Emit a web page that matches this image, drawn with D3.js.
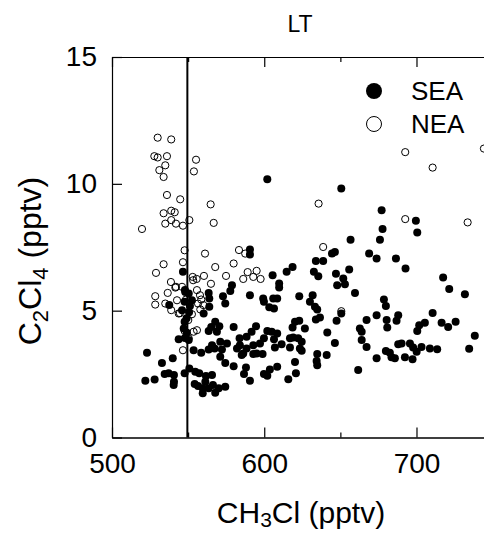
<!DOCTYPE html>
<html>
<head>
<meta charset="utf-8">
<script src="https://cdn.jsdelivr.net/npm/d3@7"></script>
<style>
  body { margin: 0; background: #fff; }
  text { font-family: "Liberation Sans", Arial, sans-serif; fill: #000; }
</style>
</head>
<body>
<div id="viz"></div>
<script>
const width = 484;
const height = 534;
const margin = {top: 57, right: -1, bottom: 97, left: 112};

// SEA (filled) points: CH3Cl, C2Cl4 (pptv)
const seaCH3Cl = [546.6,578.8,577.7,572.9,574.4,563.5,563.9,563.9,560.2,548.1,550.4,547.7,552.5,537.6,546.0,547.7,547.1,549.2,543.8,550.4,
  553.6,558.6,563.5,565.7,565.2,563.5,567.8,570.5,568.9,571.1,567.4,572.2,571.1,575.5,579.9,583.8,582.1,574.4,579.9,523.0,
  532.8,539.9,534.6,537.2,540.7,540.5,521.9,528.0,547.7,550.8,554.7,557.3,561.7,565.7,554.3,556.5,559.6,559.6,563.5,567.8,
  570.1,574.4,566.3,561.3,540.7,656.7,646.4,633.9,638.7,618.6,614.7,605.5,609.8,609.8,632.6,635.5,647.1,655.8,651.9,653.0,
  647.9,659.6,668.9,590.6,599.3,599.8,605.9,608.5,603.3,606.4,623.0,631.8,630.0,633.3,634.8,633.9,636.6,626.7,620.2,623.0,
  618.6,647.5,641.4,646.4,594.6,591.7,588.4,602.0,604.9,608.5,606.4,611.4,599.8,597.2,616.9,619.0,622.3,624.6,616.9,623.4,
  624.6,607.0,592.8,588.4,595.0,598.9,592.8,586.2,584.0,585.2,634.8,634.4,634.8,641.0,620.2,620.8,615.8,608.5,603.7,599.8,
  602.0,588.0,586.7,590.6,661.7,667.2,664.0,662.8,664.0,667.2,717.5,721.5,731.8,678.6,679.9,673.8,680.4,686.9,688.0,680.8,
  710.6,705.5,701.8,700.5,716.5,720.8,725.7,688.0,690.2,695.7,697.8,700.1,703.3,708.8,713.6,679.9,682.5,683.6,685.8,692.4,
  697.4,673.8,738.3,734.6,677.1,699.6,677.7,700.5,676.0,673.8,686.5,692.8,650.6,644.5,602.0,590.6,590.6,650.6,
  547.9,551.2,549.0,547.9,550.6];
const seaC2Cl4 = [6.53,6.00,5.78,5.57,5.28,5.70,5.48,5.15,4.89,5.74,5.68,5.35,5.41,5.22,5.02,4.56,4.30,4.13,3.87,3.84,
  3.44,3.34,3.47,3.64,4.36,4.20,4.56,4.39,4.17,3.77,3.51,3.47,3.18,3.71,4.36,3.91,3.51,2.94,2.81,3.34,
  2.94,3.12,2.50,2.53,2.46,2.07,2.24,2.29,2.53,2.72,2.59,2.53,2.42,2.46,2.11,2.03,1.94,1.74,1.94,1.76,
  1.94,2.00,2.07,2.20,2.20,7.80,7.31,6.96,6.96,6.72,6.53,6.40,6.07,5.91,6.53,6.36,6.46,6.62,6.27,6.04,
  6.00,5.70,7.25,5.61,5.48,5.35,5.48,5.48,5.13,5.09,5.57,5.61,5.35,5.15,5.05,4.65,4.73,4.30,4.56,4.60,
  4.34,4.60,4.14,3.73,4.39,4.17,3.97,4.20,4.17,4.10,3.87,3.68,3.91,3.71,3.91,3.94,3.91,3.77,3.55,3.51,
  3.42,3.55,3.64,3.51,3.31,3.29,3.29,3.31,3.64,3.25,3.29,3.02,2.85,3.25,2.98,2.53,2.30,2.79,2.68,2.50,
  2.43,2.76,2.50,2.24,2.66,4.63,4.17,4.30,3.84,3.57,6.31,5.85,5.65,5.44,5.18,4.82,4.63,4.60,4.82,4.34,
  4.91,4.52,4.43,4.20,4.52,4.36,4.56,3.68,3.71,3.71,3.55,3.38,3.57,3.51,3.48,3.41,3.34,3.16,3.12,3.16,
  3.08,3.12,4.01,3.50,8.96,8.54,8.22,8.08,7.80,7.06,7.06,6.66,9.82,7.25,10.18,7.41,7.21,4.89,
  5.81,5.18,4.70,3.92,4.94];

// NEA (open) points
const neaCH3Cl = [530.0,538.9,527.8,530.0,536.1,555.2,535.0,531.1,553.8,533.9,536.1,544.8,564.8,538.9,541.2,533.9,538.9,550.8,535.0,542.0,
  546.6,566.8,519.7,547.7,561.1,583.4,587.5,533.9,546.6,567.8,579.9,635.7,710.6,692.6,692.6,733.6,638.7,744.3,650.6,589.1,
  595.0,586.2,592.8,597.6,574.9,565.0,560.4,555.6,553.0,528.9,538.7,528.4,536.6,542.0,528.4,535.0,542.7,538.9,543.8,552.5,
  556.5,558.6,555.8,546.0,541.6,547.7,553.6,555.8,550.4,546.6,558.0,548.6,560.0,550.1,553.3,544.6,557.8];
const neaC2Cl4 = [11.82,11.75,11.09,11.04,11.09,10.95,10.73,10.54,10.49,10.27,9.56,9.39,9.19,8.94,8.88,8.84,8.57,8.57,8.43,8.43,
  8.35,8.46,8.22,7.38,7.25,7.39,7.25,6.83,6.91,6.72,6.86,9.22,10.64,11.25,8.61,8.48,7.51,11.39,4.98,6.52,
  6.57,6.25,6.33,6.25,6.37,6.06,6.37,6.25,6.33,6.49,6.13,5.57,5.70,5.94,5.24,5.28,5.41,5.02,4.89,4.86,
  5.28,5.44,5.81,5.94,5.91,4.20,4.17,4.23,3.91,3.44,5.05,5.44,5.22,4.63,6.20,4.90,5.61];

const xMajor = [500, 600, 700];
const xMinor = [550, 650];
const yTicks = [0, 5, 10, 15];
const cutoff = 549.5;

const seaData = seaCH3Cl.map((x, i) => ({x: x, y: seaC2Cl4[i]}));
const neaData = neaCH3Cl.map((x, i) => ({x: x, y: neaC2Cl4[i]}));

let xScale = d3.scaleLinear()
  .domain([500, 745])
  .range([margin.left, 485])

let yScale = d3.scaleLinear()
  .domain([0, 15])
  .range([437.5, margin.top])

let svg = d3.select('#viz')
  .append('svg')
    .attr('width', width)
    .attr('height', height)

svg.append('defs').append('clipPath')
  .attr('id', 'plot-clip')
  .append('rect')
    .attr('x', margin.left)
    .attr('y', 0)
    .attr('width', width - margin.left)
    .attr('height', height)

// bottom axis, major and minor ticks
svg.append('g')
  .attr('transform', `translate(0, ${yScale(0)})`)
  .call(d3.axisBottom(xScale).tickValues(xMajor).tickSizeInner(-10).tickSizeOuter(0).tickPadding(16))
svg.append('g')
  .attr('transform', `translate(0, ${yScale(0)})`)
  .call(d3.axisBottom(xScale).tickValues(xMinor).tickSizeInner(-5).tickSizeOuter(0).tickFormat(''))

// top axis
svg.append('g')
  .attr('transform', `translate(0, ${yScale(15)})`)
  .call(d3.axisTop(xScale).tickValues(xMajor).tickSizeInner(-10).tickSizeOuter(0).tickFormat(''))
svg.append('g')
  .attr('transform', `translate(0, ${yScale(15)})`)
  .call(d3.axisTop(xScale).tickValues(xMinor).tickSizeInner(-5).tickSizeOuter(0).tickFormat(''))

// left axis
svg.append('g')
  .attr('transform', `translate(${margin.left}, 0)`)
  .call(d3.axisLeft(yScale).tickValues(yTicks).tickSizeInner(-10).tickSizeOuter(0).tickPadding(15))

svg.selectAll('.domain').attr('stroke', '#000').attr('stroke-width', 1.2)
svg.selectAll('.tick line').attr('stroke', '#000').attr('stroke-width', 1.2)
svg.selectAll('.tick text')
  .style('font-size', '28px')
  .style('font-family', '"Liberation Sans", Arial, sans-serif')
  .attr('fill', '#000')

let plot = svg.append('g').attr('clip-path', 'url(#plot-clip)')

// cutoff line
plot.append('line')
  .attr('x1', xScale(cutoff))
  .attr('x2', xScale(cutoff))
  .attr('y1', yScale(15))
  .attr('y2', yScale(0))
  .attr('stroke', '#000')
  .attr('stroke-width', 2)

plot.append('g')
  .selectAll('circle')
  .data(neaData)
  .join('circle')
    .attr('cx', d => xScale(d.x))
    .attr('cy', d => yScale(d.y))
    .attr('r', 3.6)
    .attr('fill', 'none')
    .attr('stroke', '#000')
    .attr('stroke-width', 1)

plot.append('g')
  .selectAll('circle')
  .data(seaData)
  .join('circle')
    .attr('cx', d => xScale(d.x))
    .attr('cy', d => yScale(d.y))
    .attr('r', 4)
    .attr('fill', '#000')

// legend
let legend = svg.append('g')
legend.append('circle').attr('cx', 374).attr('cy', 91).attr('r', 8).attr('fill', '#000')
legend.append('circle').attr('cx', 374).attr('cy', 124).attr('r', 7.5)
  .attr('fill', 'none').attr('stroke', '#000').attr('stroke-width', 1)
legend.append('text').attr('x', 411).attr('y', 100).style('font-size', '26px').text('SEA')
legend.append('text').attr('x', 411).attr('y', 133).style('font-size', '26px').text('NEA')

// title
svg.append('text')
  .attr('x', 300)
  .attr('y', 32)
  .attr('text-anchor', 'middle')
  .style('font-size', '23px')
  .text('LT')

// x axis title
let xTitle = svg.append('text')
  .attr('x', 301)
  .attr('y', 523)
  .attr('text-anchor', 'middle')
  .style('font-size', '30px')
xTitle.append('tspan').text('CH')
xTitle.append('tspan').attr('dy', 4).style('font-size', '21px').text('3')
xTitle.append('tspan').attr('dy', -4).text('Cl (pptv)')

// y axis title
let yTitle = svg.append('text')
  .attr('transform', 'translate(41, 261) rotate(-90)')
  .attr('text-anchor', 'middle')
  .style('font-size', '32px')
yTitle.append('tspan').text('C')
yTitle.append('tspan').attr('dy', 7).style('font-size', '22px').text('2')
yTitle.append('tspan').attr('dy', -7).text('Cl')
yTitle.append('tspan').attr('dy', 7).style('font-size', '22px').text('4')
yTitle.append('tspan').attr('dy', -7).text(' (pptv)')
</script>
</body>
</html>
